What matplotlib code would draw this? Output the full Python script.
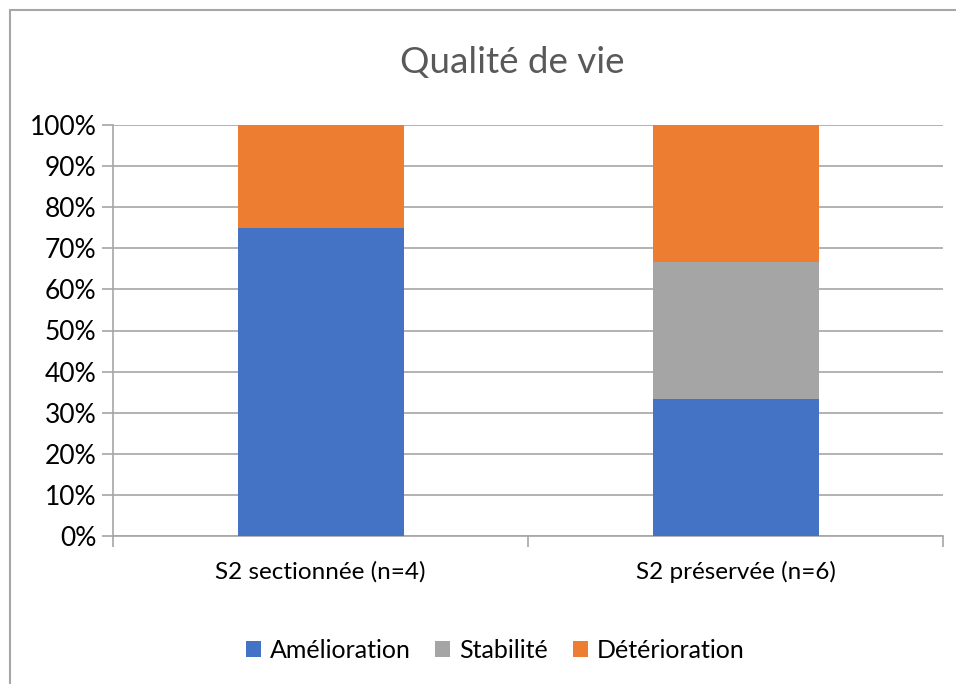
import matplotlib
matplotlib.use("Agg")
import matplotlib.pyplot as plt
from matplotlib.patches import Rectangle
from matplotlib.ticker import FuncFormatter, FixedLocator

categories = ["S2 sectionnée (n=4)", "S2 préservée (n=6)"]
amelioration = [75.0, 33.33]
stabilite = [0.0, 33.33]
deterioration = [25.0, 33.34]
series_names = ["Amélioration", "Stabilité", "Détérioration"]
colors = ["#4472C4", "#A5A5A5", "#ED7D31"]

plt.rcParams['font.family'] = ['Lato', 'DejaVu Sans']

fig = plt.figure(figsize=(9.56, 6.84), dpi=100)
ax = fig.add_axes([113/956, 1-536/684, (943-113)/956, (536-125)/684])

x = list(range(len(categories)))
bottom = [0.0]*len(categories)
handles = []
for vals, name, c in zip([amelioration, stabilite, deterioration], series_names, colors):
    b = ax.bar(x, vals, width=0.4, bottom=bottom, color=c, label=name, zorder=3)
    handles.append(b)
    bottom = [bo + v for bo, v in zip(bottom, vals)]

ax.set_xlim(-0.5, len(categories)-0.5)
ax.set_ylim(0, 100)
ax.set_yticks(range(0, 101, 10))
ax.yaxis.set_major_formatter(FuncFormatter(lambda v, p: f"{int(v)}%"))
ax.grid(axis='y', color='#A6A6A6', linewidth=1.2, zorder=0)
ax.set_xticks(x)
ax.set_xticklabels(categories, fontsize=17.5)
ax.tick_params(axis='x', length=0, pad=18)
ax.xaxis.set_minor_locator(FixedLocator([-0.5, 0.5, 1.5]))
ax.tick_params(axis='x', which='minor', length=8, color='#A6A6A6', width=1.2)
ax.tick_params(axis='y', length=8, color='#A6A6A6', width=1.2, labelsize=19, pad=4)
for s in ['top', 'right']:
    ax.spines[s].set_visible(False)
ax.spines['left'].set_color('#A6A6A6')
ax.spines['left'].set_linewidth(1.2)
ax.spines['bottom'].set_color('#A6A6A6')
ax.spines['bottom'].set_linewidth(1.2)

fig.text(512/956, 1-63/684, "Qualité de vie", ha='center', va='center', fontsize=26.5, color='#595959')

fig.legend(handles=handles, labels=series_names, loc='center', bbox_to_anchor=(495/956, 1-650/684),
           ncol=3, frameon=False, fontsize=18, handlelength=0.6, handleheight=0.6,
           handletextpad=0.35, columnspacing=1.0)

fig.add_artist(Rectangle((10/956, -0.05), 1.0, 1-10/684+0.05, transform=fig.transFigure,
                         fill=False, edgecolor='#A6A6A6', linewidth=1.5))

fig.savefig("out.png", dpi=100)
